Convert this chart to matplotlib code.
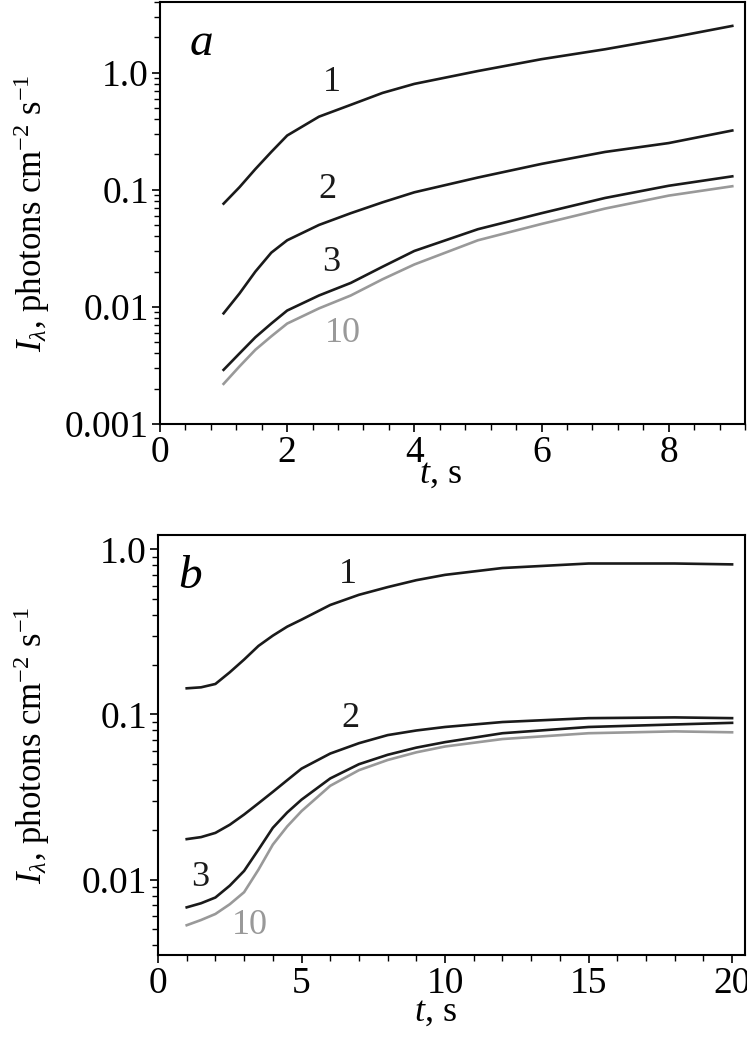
import matplotlib
matplotlib.use("Agg")
import matplotlib.pyplot as plt
from matplotlib.ticker import NullFormatter, MultipleLocator

plt.rcParams['font.family'] = ['Liberation Serif', 'DejaVu Serif']
plt.rcParams['mathtext.fontset'] = 'custom'
plt.rcParams['mathtext.rm'] = 'Liberation Serif'
plt.rcParams['mathtext.it'] = 'Liberation Serif:italic'

# Panel a
ta = [1, 1.25, 1.5, 1.75, 2, 2.5, 3, 3.5, 4, 5, 6, 7, 8, 9]
a1 = [0.076, 0.105, 0.15, 0.21, 0.29, 0.42, 0.53, 0.67, 0.80, 1.03, 1.30, 1.58, 1.97, 2.5]
a2 = [0.0088, 0.013, 0.020, 0.029, 0.037, 0.050, 0.063, 0.078, 0.095, 0.127, 0.166, 0.21, 0.25, 0.32]
a3 = [0.0029, 0.0040, 0.0055, 0.0072, 0.0093, 0.0125, 0.016, 0.022, 0.030, 0.046, 0.063, 0.085, 0.108, 0.13]
a10 = [0.0022, 0.0031, 0.0043, 0.0056, 0.0072, 0.0097, 0.0125, 0.0172, 0.023, 0.037, 0.051, 0.069, 0.089, 0.107]

# Panel b
tb = [1, 1.5, 2, 2.5, 3, 3.5, 4, 4.5, 5, 6, 7, 8, 9, 10, 12, 15, 18, 20]
b1 = [0.144, 0.146, 0.153, 0.18, 0.215, 0.26, 0.30, 0.34, 0.375, 0.46, 0.53, 0.59, 0.65, 0.70, 0.77, 0.82, 0.82, 0.81]
b2 = [0.0176, 0.0181, 0.0192, 0.0215, 0.0248, 0.029, 0.034, 0.040, 0.047, 0.058, 0.067, 0.075, 0.080, 0.084, 0.090, 0.095, 0.096, 0.095]
b3 = [0.0068, 0.0072, 0.0078, 0.0092, 0.0113, 0.0152, 0.0206, 0.0255, 0.0305, 0.041, 0.050, 0.057, 0.063, 0.068, 0.077, 0.084, 0.087, 0.089]
b10 = [0.0053, 0.0057, 0.0062, 0.0071, 0.0084, 0.0115, 0.0163, 0.021, 0.026, 0.037, 0.046, 0.053, 0.059, 0.064, 0.071, 0.077, 0.079, 0.078]

ylabels = ['0.001', '0.01', '0.1', '1.0']

W, H = 747, 1043
fig = plt.figure(figsize=(W/100, H/100), dpi=100)

def ax_px(l, t, r, b):
    return fig.add_axes([l/W, 1-b/H, (r-l)/W, (b-t)/H])

axa = ax_px(160, 2, 745, 424)
axb = ax_px(158, 535, 745, 955)

blk = '#1a1a1a'; gry = '#999999'
lw = 1.9
for ax, t, series in [(axa, ta, [a1, a2, a3, a10]), (axb, tb, [b1, b2, b3, b10])]:
    for s, c in zip(series, [blk, blk, blk, gry]):
        ax.plot(t, s, color=c, lw=lw, solid_joinstyle='round')
    ax.set_yscale('log')
    for sp in ax.spines.values():
        sp.set_linewidth(1.5)
    ax.tick_params(labelsize=27, width=1.2, length=6, direction='out', pad=2)
    ax.tick_params(which='minor', width=1.0, length=4, direction='out')

axa.set_xlim(0, 9.2)
axa.set_ylim(0.001, 4)
axa.set_yticks([0.001, 0.01, 0.1, 1.0])
axa.set_yticklabels(ylabels)
axa.set_xticks([0, 2, 4, 6, 8])
axa.xaxis.set_minor_locator(MultipleLocator(0.4))

axb.set_xlim(0, 20.45)
axb.set_ylim(0.0035, 1.22)
axb.set_yticks([0.01, 0.1, 1.0])
axb.set_yticklabels(ylabels[1:])
axb.set_xticks([0, 5, 10, 15, 20])
axb.xaxis.set_minor_locator(MultipleLocator(1))
for ax in (axa, axb):
    ax.yaxis.set_minor_formatter(NullFormatter())

fs = 26
axa.text(2.7, 0.83, '1', fontsize=fs, ha='center', va='center', color=blk)
axa.text(2.63, 0.1, '2', fontsize=fs, ha='center', va='center', color=blk)
axa.text(2.7, 0.024, '3', fontsize=fs, ha='center', va='center', color=blk)
axa.text(2.87, 0.0059, '10', fontsize=fs, ha='center', va='center', color=gry)
axb.text(6.6, 0.70, '1', fontsize=fs, ha='center', va='center', color=blk)
axb.text(6.7, 0.094, '2', fontsize=fs, ha='center', va='center', color=blk)
axb.text(1.46, 0.0103, '3', fontsize=fs, ha='center', va='center', color=blk)
axb.text(3.2, 0.0053, '10', fontsize=fs, ha='center', va='center', color=gry)

axa.text(0.07, 0.9, 'a', transform=axa.transAxes, fontsize=34, style='italic', ha='center', va='center')
axb.text(0.055, 0.9, 'b', transform=axb.transAxes, fontsize=34, style='italic', ha='center', va='center')

ylab = r'$I_\lambda$, photons cm$^{-2}$ s$^{-1}$'
fig.text(32/W, 1-213/H, ylab, rotation=90, fontsize=25, ha='center', va='center')
fig.text(32/W, 1-745/H, ylab, rotation=90, fontsize=25, ha='center', va='center')
fig.text(440/W, 1-474/H, r'$t$, s', fontsize=26, ha='center', va='center')
fig.text(435/W, 1-1012/H, r'$t$, s', fontsize=26, ha='center', va='center')

fig.savefig('out.png', dpi=100)
